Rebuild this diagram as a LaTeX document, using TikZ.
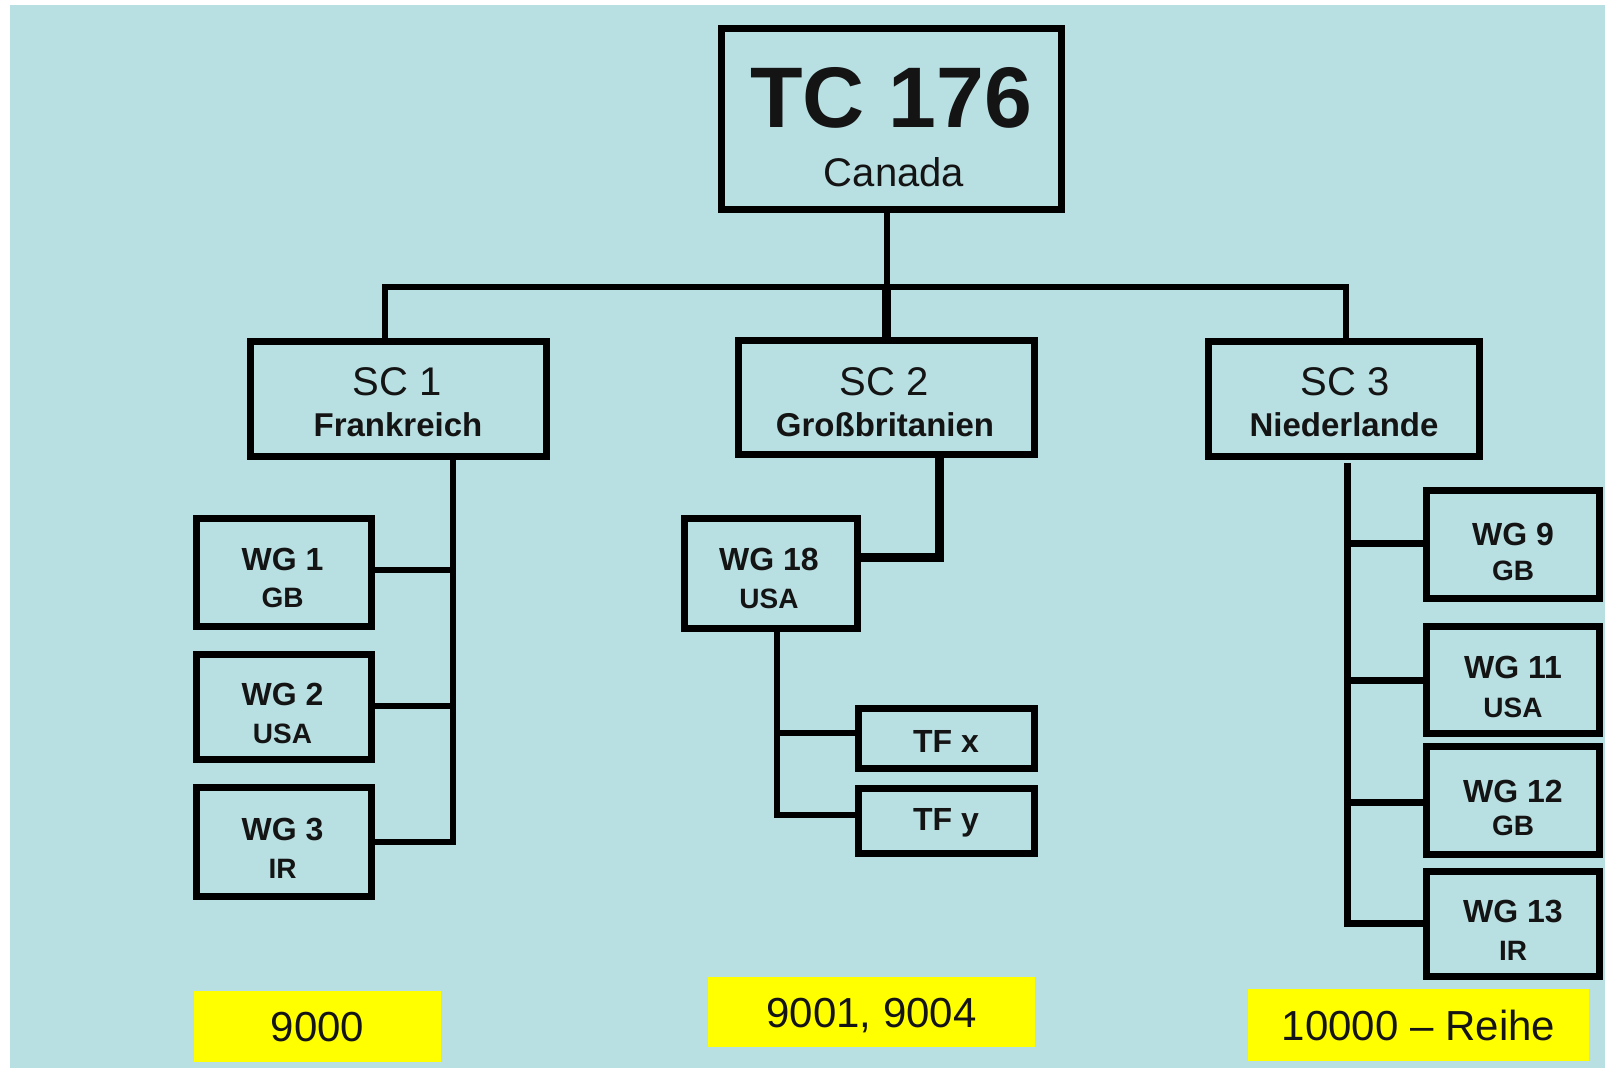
\documentclass[tikz,border=0pt]{standalone}
\usepackage{fontspec}
\setmainfont{Liberation Sans}
\definecolor{bg}{HTML}{B8DFE2}
\definecolor{hl}{HTML}{FFFF00}
\definecolor{ink}{HTML}{141414}
\begin{document}
\begin{tikzpicture}[x=1pt,y=-1pt,
  box/.style={draw=black, line width=7pt, inner sep=0pt, rectangle},
  conn/.style={draw=black, line width=6.5pt, line join=miter},
  txt/.style={anchor=base, inner sep=0pt, text=ink},
  huge/.style={txt, font=\bfseries\fontsize{86}{86}\selectfont},
  big/.style={txt, font=\fontsize{40}{40}\selectfont},
  sub/.style={txt, font=\bfseries\fontsize{33}{33}\selectfont},
  wgt/.style={txt, font=\bfseries\fontsize{32}{32}\selectfont},
  wgs/.style={txt, font=\bfseries\fontsize{28}{28}\selectfont},
  hlbox/.style={fill=hl, inner sep=0pt, text=ink, font=\fontsize{42}{42}\selectfont, text height=30pt, text depth=0pt}
]
\useasboundingbox (0,0) rectangle (1605,1068);
\fill[white] (0,0) rectangle (1605,1068);
\fill[bg] (10,5) rectangle (1605,1068);

% boxes
\node[box, minimum width=340pt, minimum height=181pt] (tc) at (891.5,119) {};
\node[box, minimum width=296pt, minimum height=115pt] (sc1) at (398.5,399) {};
\node[box, minimum width=296pt, minimum height=114pt] (sc2) at (886.5,397.5) {};
\node[box, minimum width=271pt, minimum height=115pt] (sc3) at (1344,399) {};
\node[box, minimum width=175pt, minimum height=108pt] (wg1) at (284,572.5) {};
\node[box, minimum width=175pt, minimum height=105pt] (wg2) at (284,707) {};
\node[box, minimum width=175pt, minimum height=109pt] (wg3) at (284,842) {};
\node[box, minimum width=173pt, minimum height=110pt] (wg18) at (771,573.5) {};
\node[box, minimum width=176pt, minimum height=60pt] (tfx) at (946.5,738.5) {};
\node[box, minimum width=176pt, minimum height=65pt] (tfy) at (946.5,821) {};
\node[box, minimum width=173pt, minimum height=108pt] (wg9) at (1513,544.5) {};
\node[box, minimum width=173pt, minimum height=107pt] (wg11) at (1513,680) {};
\node[box, minimum width=173pt, minimum height=108pt] (wg12) at (1513,800.5) {};
\node[box, minimum width=173pt, minimum height=105pt] (wg13) at (1513,924) {};

% texts
\node[huge] (tct) at (891,127) {TC 176};
\node[txt, font=\fontsize{40}{40}\selectfont] (tcs) at (894,186) {Canada};
\node[big] (sc1t) at (397,395) {SC 1};
\node[sub] (sc1s) at (398,436) {Frankreich};
\node[big] (sc2t) at (884,395) {SC 2};
\node[sub] (sc2s) at (885,436) {Großbritanien};
\node[big] (sc3t) at (1345,395) {SC 3};
\node[sub] (sc3s) at (1344,436) {Niederlande};
\node[wgt] (wg1t) at (282.5,570) {WG 1};
\node[wgs] (wg1s) at (282.5,607) {GB};
\node[wgt] (wg2t) at (282.5,705) {WG 2};
\node[wgs] (wg2s) at (282.5,743) {USA};
\node[wgt] (wg3t) at (282.5,840) {WG 3};
\node[wgs] (wg3s) at (282.5,878) {IR};
\node[wgt] (wg18t) at (769,570) {WG 18};
\node[wgs] (wg18s) at (769,608) {USA};
\node[wgt] (tfxt) at (946,752) {TF x};
\node[wgt] (tfyt) at (946,830) {TF y};
\node[wgt] (wg9t) at (1513,545) {WG 9};
\node[wgs] (wg9s) at (1513,580) {GB};
\node[wgt] (wg11t) at (1513,678) {WG 11};
\node[wgs] (wg11s) at (1513,717) {USA};
\node[wgt] (wg12t) at (1513,802) {WG 12};
\node[wgs] (wg12s) at (1513,835) {GB};
\node[wgt] (wg13t) at (1513,922) {WG 13};
\node[wgs] (wg13s) at (1513,960) {IR};

% yellow labels
\node[hlbox, minimum width=247pt, minimum height=71pt] (n9000) at (317.5,1026.5) {9000};
\node[hlbox, minimum width=327pt, minimum height=70pt] (n9001) at (871.5,1012) {9001, 9004};
\node[hlbox, minimum width=341pt, minimum height=72pt] (n10000) at (1418.5,1025) {10000 -- Reihe};

% connectors
\coordinate (b1) at (385,287);
\coordinate (b3) at (1346,287);
\coordinate (bm) at (sc2.north |- b1);
\draw[conn, line width=6pt] (tc.south -| sc2.north) -- (bm);
\draw[conn, line width=9pt] (bm) -- (sc2.north);
\draw[conn, line width=5.5pt] (b1 |- sc1.north) -- (b1) -- (b3) -- (b3 |- sc3.north);

\coordinate (v1) at (453,842);
\draw[conn] (sc1.south -| v1) -- (v1) -- (wg3.east);
\draw[conn] (wg1.east |- 0,570) -- (453,570);
\draw[conn] (wg2.east |- 0,706) -- (453,706);

\coordinate (v2) at (939,557);
\draw[conn, line width=9pt] (sc2.south -| v2) -- (v2) -- (wg18.east |- v2);

\coordinate (v3) at (777,815);
\draw[conn] (wg18.south -| v3) -- (v3) -- (tfy.west |- v3);
\draw[conn] (777,733) -- (tfx.west |- 0,733);

\coordinate (v4) at (1347,923);
\draw[conn, line width=7pt] (1347,463) -- (v4) -- (wg13.west |- v4);
\draw[conn, line width=7pt] (1347,543) -- (wg9.west |- 0,543);
\draw[conn, line width=7pt] (1347,680) -- (wg11.west);
\draw[conn, line width=7pt] (1347,802) -- (wg12.west |- 0,802);
\end{tikzpicture}
\end{document}
